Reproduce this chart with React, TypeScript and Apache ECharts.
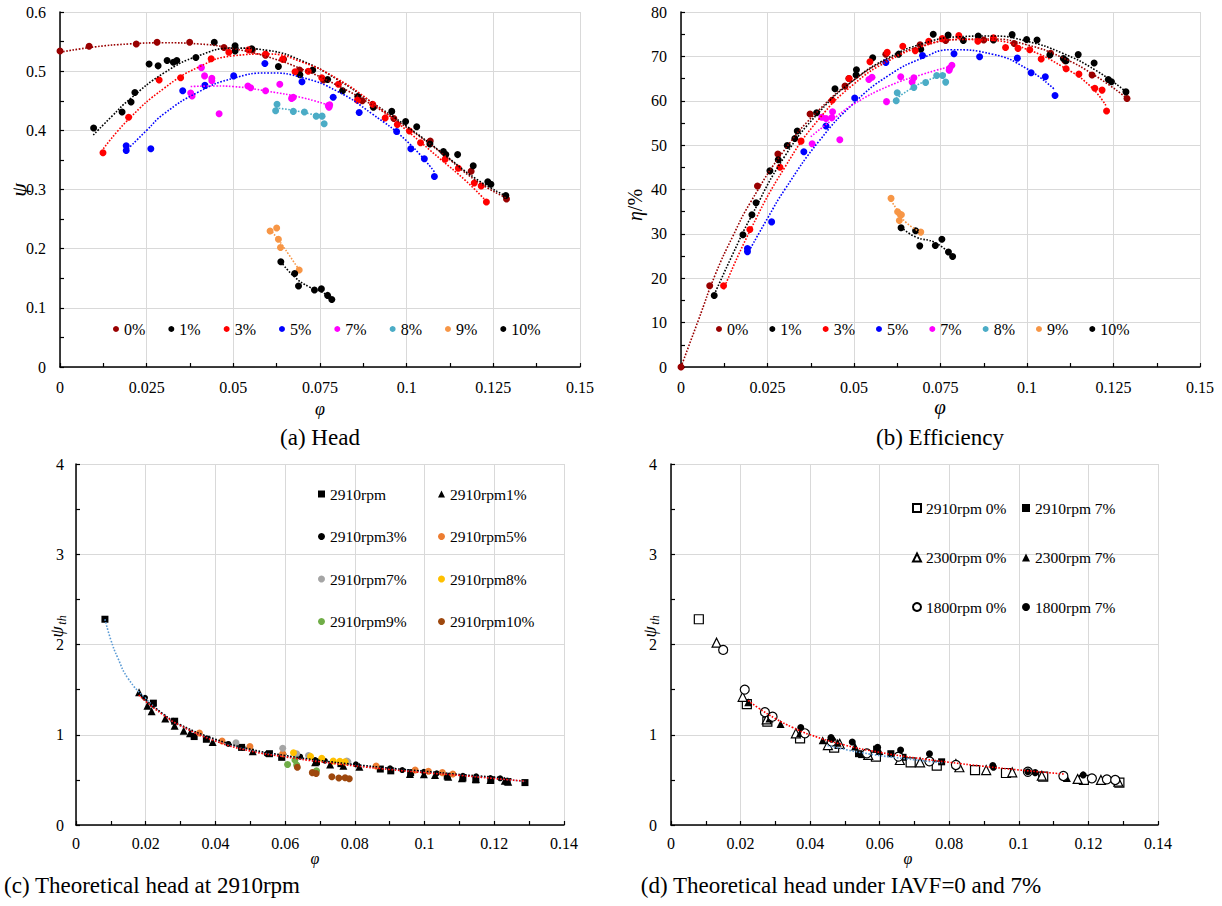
import React, { useEffect, useRef } from 'react';
import * as echarts from 'echarts';

const FONT = 'Liberation Serif';

// ---------- (a) Head: psi vs phi ----------
const headNames = ['0%', '1%', '3%', '5%', '7%', '8%', '9%', '10%'];
const headColors = ['#990000', '#000000', '#FF0000', '#0000FF', '#FF00FF', '#4BACC6', '#F79646', '#000000'];
const h0 = [[0,0.534],[0.0084,0.542],[0.022,0.546],[0.028,0.549],[0.0374,0.549],[0.0473,0.540],[0.0555,0.536],[0.0593,0.527],[0.0645,0.52],[0.0691,0.502],[0.076,0.485],[0.0872,0.45],[0.0963,0.42],[0.1068,0.382],[0.1186,0.331],[0.1288,0.284]];
const h1 = [[0.0097,0.404],[0.0179,0.431],[0.0205,0.448],[0.0216,0.464],[0.0257,0.512],[0.0283,0.509],[0.0309,0.518],[0.0327,0.515],[0.0337,0.518],[0.0392,0.523],[0.0445,0.549],[0.0505,0.543],[0.0505,0.534],[0.0553,0.538],[0.063,0.508],[0.0692,0.494],[0.0729,0.502],[0.0772,0.486],[0.0815,0.467],[0.0859,0.457],[0.0904,0.439],[0.0957,0.432],[0.0997,0.415],[0.1029,0.406],[0.1067,0.377],[0.1106,0.364],[0.1113,0.359],[0.1147,0.359],[0.1192,0.340],[0.1234,0.313],[0.1243,0.309],[0.1286,0.290]];
const h3 = [[0.0124,0.362],[0.0198,0.422],[0.0286,0.485],[0.0348,0.489],[0.0436,0.521],[0.0487,0.532],[0.0544,0.536],[0.0593,0.529],[0.0642,0.520],[0.0678,0.499],[0.0716,0.500],[0.0755,0.489],[0.0803,0.478],[0.0858,0.451],[0.0902,0.444],[0.0938,0.421],[0.0973,0.410],[0.1008,0.399],[0.104,0.379],[0.1111,0.351],[0.1149,0.336],[0.1195,0.311],[0.1215,0.306],[0.123,0.279]];
const h5 = [[0.0191,0.374],[0.0191,0.366],[0.0262,0.369],[0.0354,0.467],[0.0418,0.476],[0.0501,0.492],[0.0591,0.513],[0.0698,0.482],[0.0788,0.456],[0.0863,0.43],[0.0971,0.398],[0.1012,0.369],[0.1051,0.352],[0.108,0.322]];
const h7 = [[0.0377,0.463],[0.0381,0.458],[0.0408,0.506],[0.0417,0.492],[0.0438,0.488],[0.0438,0.484],[0.0459,0.428],[0.0542,0.475],[0.055,0.472],[0.0593,0.467],[0.0634,0.478],[0.0668,0.454],[0.0673,0.456],[0.0774,0.442],[0.0776,0.439],[0.0778,0.443]];
const h8 = [[0.0626,0.444],[0.0622,0.433],[0.0673,0.432],[0.0705,0.431],[0.0739,0.424],[0.0756,0.424],[0.0762,0.411]];
const h9 = [[0.0606,0.230],[0.0625,0.235],[0.063,0.216],[0.0636,0.202],[0.069,0.164]];
const h10 = [[0.0637,0.178],[0.0677,0.158],[0.0688,0.137],[0.0734,0.130],[0.0754,0.132],[0.0772,0.121],[0.0784,0.114]];
// trend lines
const ht0 = [[0,0.532],[0.01,0.541],[0.02,0.546],[0.03,0.548],[0.04,0.546],[0.05,0.538],[0.06,0.524],[0.07,0.503],[0.08,0.476],[0.09,0.443],[0.1,0.405],[0.11,0.362],[0.12,0.315],[0.129,0.285]];
const ht1 = [[0.0096,0.392],[0.015,0.424],[0.02,0.452],[0.03,0.497],[0.04,0.526],[0.05,0.539],[0.06,0.535],[0.07,0.517],[0.08,0.486],[0.09,0.447],[0.1,0.407],[0.11,0.363],[0.12,0.318],[0.129,0.288]];
const ht3 = [[0.0125,0.369],[0.02,0.42],[0.03,0.471],[0.04,0.507],[0.05,0.526],[0.06,0.529],[0.07,0.515],[0.08,0.487],[0.09,0.447],[0.1,0.400],[0.11,0.35],[0.117,0.315],[0.123,0.28]];
const ht5 = [[0.019,0.365],[0.025,0.40],[0.03,0.428],[0.04,0.465],[0.05,0.488],[0.06,0.497],[0.07,0.489],[0.08,0.466],[0.09,0.428],[0.1,0.382],[0.108,0.330]];
const ht7 = [[0.0377,0.474],[0.045,0.475],[0.05,0.474],[0.06,0.466],[0.07,0.455],[0.0778,0.442]];
const ht8 = [[0.0622,0.438],[0.067,0.434],[0.072,0.428],[0.0762,0.421]];
const ht9 = [[0.0606,0.232],[0.063,0.215],[0.066,0.19],[0.069,0.164]];
const ht10 = [[0.0637,0.178],[0.0677,0.152],[0.072,0.135],[0.0755,0.127],[0.0784,0.115]];

// ---------- (b) Efficiency ----------
const e0 = [[0,0],[0.0083,18.3],[0.0221,40.8],[0.028,48.0],[0.0373,57.0],[0.0474,63.3],[0.0485,65.0],[0.0592,70.5],[0.0691,72.6],[0.0765,73.6],[0.0875,73.7],[0.0963,72.9],[0.1068,70.7],[0.111,69.0],[0.1188,65.8],[0.1289,60.5]];
const e1 = [[0.0096,16.1],[0.0179,29.8],[0.0205,34.3],[0.0217,37.0],[0.0257,44.2],[0.0281,46.7],[0.0307,49.9],[0.0329,51.5],[0.0336,53.2],[0.0392,57.3],[0.0445,62.7],[0.0507,67.0],[0.0506,65.8],[0.0554,69.7],[0.0629,70.5],[0.0693,71.6],[0.0729,75.0],[0.0772,74.8],[0.0816,73.6],[0.0859,74.6],[0.0903,73.7],[0.0957,74.9],[0.0999,73.8],[0.1029,73.7],[0.1066,70.3],[0.1105,69.5],[0.1113,69.0],[0.1148,70.4],[0.1194,68.5],[0.1235,64.8],[0.1244,64.3],[0.1286,62.0]];
const e3 = [[0.0123,18.3],[0.0199,31.0],[0.0286,45.0],[0.0347,50.9],[0.0437,60.1],[0.0486,65.0],[0.0546,68.8],[0.0596,70.9],[0.0641,72.3],[0.0677,71.3],[0.0716,73.4],[0.0755,74.0],[0.0803,74.7],[0.0858,73.4],[0.0903,74.2],[0.0938,72.0],[0.0974,71.8],[0.1008,71.5],[0.1041,69.4],[0.1113,67.2],[0.115,66.0],[0.1196,62.8],[0.1217,62.4],[0.123,57.7]];
const e5 = [[0.0192,26.7],[0.0192,26.0],[0.0262,32.7],[0.0355,48.5],[0.0419,54.3],[0.0502,60.6],[0.0592,68.6],[0.0698,70.2],[0.0789,70.6],[0.0863,69.9],[0.0972,69.6],[0.1012,66.3],[0.1053,65.4],[0.1081,61.2]];
const e7 = [[0.0379,50.3],[0.0407,56.3],[0.0419,56.0],[0.0438,57.5],[0.0436,56.2],[0.0459,51.2],[0.0543,64.8],[0.0552,65.3],[0.0594,59.8],[0.0635,65.4],[0.0668,64.2],[0.0673,65.2],[0.0775,66.9],[0.0777,67.4],[0.0783,68.0]];
const e8 = [[0.0622,60.0],[0.0625,61.8],[0.0673,63.0],[0.0707,64.1],[0.0739,65.7],[0.0756,65.7],[0.0765,64.2]];
const e9 = [[0.0607,38.0],[0.0626,35.0],[0.0633,34.4],[0.0637,34.3],[0.0631,33.0],[0.0693,30.4]];
const e10 = [[0.0636,31.4],[0.0678,30.7],[0.069,27.3],[0.0735,27.4],[0.0754,28.8],[0.0773,25.9],[0.0785,24.9]];
const et0 = [[0,0],[0.005,10.5],[0.01,21],[0.015,29.5],[0.02,37],[0.03,49],[0.04,58],[0.05,64.7],[0.06,69.4],[0.07,72.4],[0.08,73.8],[0.09,73.9],[0.1,72.6],[0.11,69.8],[0.12,65.5],[0.129,60.5]];
const et1 = [[0.0096,16.3],[0.015,25.5],[0.02,33.5],[0.03,47.5],[0.04,57.5],[0.05,64.7],[0.06,69.7],[0.07,72.9],[0.08,74.4],[0.09,74.6],[0.1,73.4],[0.11,70.8],[0.12,66.8],[0.129,61.8]];
const et3 = [[0.0123,17.5],[0.02,30.8],[0.03,45],[0.04,56],[0.05,63.8],[0.06,69],[0.07,72.3],[0.08,73.8],[0.09,73.6],[0.1,71.6],[0.11,67.8],[0.118,63.5],[0.123,58.7]];
const et5 = [[0.0192,25.5],[0.025,33.5],[0.03,40],[0.04,51],[0.05,59.5],[0.06,65.7],[0.07,69.7],[0.078,71.5],[0.09,70.5],[0.1,67.2],[0.108,62.5]];
const et7 = [[0.0375,51.9],[0.045,56.5],[0.05,59.3],[0.06,63.3],[0.07,66],[0.0783,67.8]];
const et8 = [[0.0622,60.5],[0.066,62.5],[0.07,64.2],[0.0765,66]];
const et9 = [[0.0607,37.5],[0.0626,35.3],[0.065,32.6],[0.0693,30.4]];
const et10 = [[0.0636,31.5],[0.0678,29.3],[0.0735,28],[0.0785,25]];

// ---------- (c) Theoretical head at 2910rpm ----------
const cNames = ['2910rpm', '2910rpm1%', '2910rpm3%', '2910rpm5%', '2910rpm7%', '2910rpm8%', '2910rpm9%', '2910rpm10%'];
const cColors = ['#000000', '#000000', '#000000', '#ED7D31', '#A5A5A5', '#FFC000', '#70AD47', '#9E480E'];
const cSymbols = ['rect', 'triangle', 'circle', 'circle', 'circle', 'circle', 'circle', 'circle'];
const cSizes = [7, 8, 6, 7, 7, 7, 7, 7];
const c0 = [[0.0083,2.28],[0.0222,1.35],[0.0283,1.15],[0.0339,0.98],[0.0374,0.95],[0.0475,0.86],[0.0555,0.79],[0.059,0.75],[0.069,0.70],[0.076,0.68],[0.0873,0.62],[0.0903,0.60],[0.096,0.58],[0.1065,0.54],[0.111,0.52],[0.1147,0.50],[0.119,0.50],[0.1237,0.48],[0.1288,0.47]];
const c1 = [[0.0181,1.47],[0.0205,1.32],[0.0217,1.26],[0.0256,1.18],[0.0283,1.10],[0.0309,1.045],[0.0327,1.016],[0.0392,0.92],[0.0507,0.816],[0.0686,0.695],[0.0729,0.67],[0.0767,0.657],[0.0813,0.646],[0.0958,0.565],[0.0998,0.562],[0.103,0.554],[0.1068,0.535],[0.1107,0.517],[0.1147,0.51],[0.1189,0.50],[0.123,0.49],[0.124,0.48]];
const c3 = [[0.0198,1.41],[0.0222,1.33],[0.0279,1.155],[0.0339,0.99],[0.0437,0.898],[0.0478,0.857],[0.0547,0.787],[0.0595,0.783],[0.0643,0.757],[0.0686,0.72],[0.0714,0.712],[0.0803,0.672],[0.0901,0.628],[0.0936,0.609],[0.0998,0.59],[0.1035,0.573],[0.111,0.546],[0.1148,0.54],[0.1189,0.521],[0.1217,0.517]];
const c5 = [[0.0354,1.02],[0.0419,0.93],[0.0499,0.87],[0.0593,0.79],[0.0861,0.654],[0.0973,0.61],[0.1011,0.595],[0.1051,0.58],[0.1081,0.565]];
const c7 = [[0.0459,0.91],[0.0593,0.85],[0.0633,0.79],[0.0667,0.77],[0.0777,0.71],[0.078,0.70]];
const c8 = [[0.0624,0.80],[0.0673,0.76],[0.0705,0.74],[0.0738,0.71],[0.0757,0.705],[0.0772,0.70]];
const c9 = [[0.0607,0.67],[0.0628,0.72],[0.0633,0.665],[0.069,0.60]];
const c10 = [[0.0635,0.64],[0.0678,0.58],[0.0689,0.57],[0.0734,0.535],[0.0754,0.52],[0.0772,0.524],[0.0784,0.513]];
const ctBlue = [[0.0083,2.28],[0.01,2.05],[0.012,1.85],[0.015,1.62],[0.02,1.40],[0.025,1.23],[0.03,1.10],[0.04,0.94],[0.05,0.83],[0.06,0.765],[0.07,0.71],[0.08,0.665],[0.09,0.625],[0.1,0.59],[0.11,0.555],[0.12,0.52],[0.129,0.48]];
const ctRed = [[0.018,1.44],[0.02,1.37],[0.025,1.22],[0.03,1.10],[0.04,0.93],[0.05,0.82],[0.06,0.755],[0.07,0.70],[0.08,0.655],[0.09,0.615],[0.1,0.58],[0.11,0.55],[0.12,0.515],[0.129,0.485]];
const ctBlack = [[0.018,1.45],[0.025,1.23],[0.03,1.11],[0.04,0.95],[0.05,0.84],[0.06,0.77],[0.07,0.715],[0.08,0.67],[0.09,0.63],[0.1,0.595],[0.11,0.56],[0.12,0.53],[0.125,0.51]];

// ---------- (d) Theoretical head under IAVF=0 and 7% ----------
const dNames = ['2910rpm 0%', '2910rpm 7%', '2300rpm 0%', '2300rpm 7%', '1800rpm 0%', '1800rpm 7%'];
const dSymbols = ['rect', 'rect', 'triangle', 'triangle', 'circle', 'circle'];
const dOpen = [true, false, true, false, true, false];
const dSizes = [9, 7, 9, 8, 9, 7];
const d0 = [[0.008,2.28],[0.0218,1.34],[0.0277,1.145],[0.0371,0.96],[0.0469,0.857],[0.0589,0.757],[0.0689,0.695],[0.0764,0.657],[0.0874,0.609],[0.0963,0.576],[0.107,0.535],[0.1187,0.499],[0.1289,0.469]];
const d1 = [[0.0539,0.79],[0.0548,0.78],[0.0591,0.84],[0.0632,0.79],[0.0667,0.75],[0.0778,0.70]];
const d2 = [[0.0131,2.02],[0.0206,1.42],[0.0275,1.17],[0.0359,1.016],[0.0451,0.886],[0.0485,0.90],[0.0567,0.776],[0.0658,0.72],[0.0716,0.695],[0.0829,0.64],[0.0906,0.609],[0.0981,0.584],[0.1066,0.546],[0.1169,0.51],[0.1236,0.499],[0.1286,0.48]];
const d3 = [[0.0222,1.36],[0.0283,1.18],[0.0315,1.12],[0.0371,1.02],[0.0436,0.94],[0.0479,0.91],[0.0529,0.87],[0.0599,0.82],[0.0663,0.765],[0.0819,0.695],[0.1138,0.52]];
const d4 = [[0.015,1.94],[0.0212,1.50],[0.027,1.25],[0.0292,1.20],[0.0385,1.016],[0.0462,0.923],[0.0563,0.794],[0.0654,0.757],[0.0743,0.705],[0.0819,0.665],[0.1026,0.59],[0.1128,0.543],[0.121,0.517],[0.1253,0.506],[0.1277,0.499]];
const d5 = [[0.0373,1.08],[0.046,0.97],[0.0462,0.95],[0.0521,0.92],[0.0594,0.86],[0.066,0.83],[0.0743,0.79],[0.0925,0.66],[0.0927,0.64],[0.1026,0.59],[0.1047,0.58],[0.1185,0.555]];
const dtRed = [[0.0222,1.38],[0.025,1.30],[0.03,1.18],[0.035,1.08],[0.04,1.0],[0.05,0.885],[0.06,0.805],[0.07,0.745],[0.08,0.695],[0.09,0.65],[0.1,0.61],[0.113,0.565]];
const dtBlue = [[0.045,0.88],[0.055,0.80],[0.065,0.745],[0.078,0.69]];

const headData = [h0, h1, h3, h5, h7, h8, h9, h10];
const headTrends = [ht0, ht1, ht3, ht5, ht7, ht8, ht9, ht10];
const effData = [e0, e1, e3, e5, e7, e8, e9, e10];
const effTrends = [et0, et1, et3, et5, et7, et8, et9, et10];
const cData = [c0, c1, c3, c5, c7, c8, c9, c10];
const dData = [d0, d1, d2, d3, d4, d5];

const fmt = (v: number) => String(parseFloat(v.toFixed(4)));

function mkAxis(gridIndex: number, max: number, interval: number, fontSize: number, margin: number) {
  return {
    type: 'value', gridIndex, min: 0, max, interval,
    axisLine: { show: true, onZero: false, lineStyle: { color: '#000', width: 1.5 } },
    axisTick: { show: true, inside: true, length: 4, lineStyle: { color: '#000', width: 1.2 } },
    minorTick: { show: true, splitNumber: 2, length: 4, lineStyle: { color: '#000', width: 1.2 } },
    splitLine: { show: true, lineStyle: { color: '#d9d9d9', width: 1 } },
    minorSplitLine: { show: false },
    axisLabel: { color: '#000', fontFamily: FONT, fontSize, margin, formatter: fmt },
  };
}

function scatter(name: string, data: number[][], idx: number, color: string, symbol = 'circle', size = 7, open = false) {
  return {
    type: 'scatter', name, data, xAxisIndex: idx, yAxisIndex: idx, symbol, symbolSize: size, z: 2,
    itemStyle: open ? { color: '#fff', borderColor: '#000', borderWidth: 1.2, opacity: 1 } : { color, opacity: 1 },
    emphasis: { disabled: true },
  };
}

function trend(name: string, data: number[][], idx: number, color: string) {
  return {
    type: 'line', name, data, xAxisIndex: idx, yAxisIndex: idx, smooth: true, showSymbol: false, symbol: 'none',
    lineStyle: { color, width: 1.6, type: 'dotted' }, silent: true, z: 3,
  };
}

function txt(text: string, x: number, y: number, fontSize: number, italic = false, rotation = 0) {
  return {
    type: 'text', x, y, rotation,
    style: { text, fill: '#000', fontFamily: FONT, fontSize, fontStyle: italic ? 'italic' : 'normal', textAlign: 'center', textVerticalAlign: 'middle' },
  };
}

function psiTh(x: number, y: number) {
  return {
    type: 'group', x, y, rotation: Math.PI / 2,
    children: [
      { type: 'text', x: -4, y: 0, style: { text: 'ψ', fill: '#000', fontFamily: FONT, fontSize: 18, fontStyle: 'italic', textAlign: 'center', textVerticalAlign: 'middle' } },
      { type: 'text', x: 8, y: 5, style: { text: 'th', fill: '#000', fontFamily: FONT, fontSize: 12, fontStyle: 'italic', textAlign: 'center', textVerticalAlign: 'middle' } },
    ],
  };
}

export default function App() {
  const ref = useRef<HTMLDivElement>(null);
  useEffect(() => {
    const chart = echarts.init(ref.current as HTMLDivElement, null, { renderer: 'svg' });
    const series: any[] = [];
    headNames.forEach((n, i) => {
      series.push(scatter(n, headData[i], 0, headColors[i]));
      series.push(trend('_ha' + i, headTrends[i], 0, headColors[i]));
      series.push(scatter(n, effData[i], 1, headColors[i]));
      series.push(trend('_eb' + i, effTrends[i], 1, headColors[i]));
    });
    cNames.forEach((n, i) => series.push(scatter(n, cData[i], 2, cColors[i], cSymbols[i], cSizes[i])));
    series.push(trend('_cb', ctBlue, 2, '#5B9BD5'));
    series.push(trend('_ck', ctBlack, 2, '#000000'));
    series.push(trend('_cr', ctRed, 2, '#FF0000'));
    dNames.forEach((n, i) => series.push(scatter(n, dData[i], 3, '#000', dSymbols[i], dSizes[i], dOpen[i])));
    series.push(trend('_db', dtBlue, 3, '#5B9BD5'));
    series.push(trend('_dr', dtRed, 3, '#FF0000'));

    const legText = (fs: number) => ({ fontFamily: FONT, fontSize: fs, color: '#000' });
    const option: any = {
      animation: false,
      backgroundColor: '#ffffff',
      textStyle: { fontFamily: FONT },
      grid: [
        { left: 60, top: 12, width: 520, height: 355 },
        { left: 681, top: 12, width: 519, height: 355 },
        { left: 76, top: 464, width: 488, height: 361 },
        { left: 671, top: 464, width: 487, height: 361 },
      ],
      xAxis: [
        mkAxis(0, 0.15, 0.025, 16, 12),
        mkAxis(1, 0.15, 0.025, 16, 12),
        mkAxis(2, 0.14, 0.02, 16, 10),
        mkAxis(3, 0.14, 0.02, 16, 10),
      ],
      yAxis: [
        mkAxis(0, 0.6, 0.1, 16, 14),
        mkAxis(1, 80, 10, 16, 14),
        mkAxis(2, 4, 1, 16, 12),
        mkAxis(3, 4, 1, 16, 14),
      ],
      legend: [
        { data: headNames, left: 108, top: 316, icon: 'circle', itemWidth: 6, itemHeight: 6, itemGap: 23, selectedMode: false, textStyle: legText(16) },
        { data: headNames, left: 711, top: 316, icon: 'circle', itemWidth: 6, itemHeight: 6, itemGap: 21, selectedMode: false, textStyle: legText(16) },
        { data: ['2910rpm', '2910rpm3%', '2910rpm7%', '2910rpm9%'], orient: 'vertical', left: 313, top: 481, itemWidth: 7, itemHeight: 7, itemGap: 26.5, selectedMode: false, textStyle: legText(15.5) },
        { data: ['2910rpm1%', '2910rpm5%', '2910rpm8%', '2910rpm10%'], orient: 'vertical', left: 433, top: 481, itemWidth: 7, itemHeight: 7, itemGap: 26.5, selectedMode: false, textStyle: legText(15.5) },
        { data: ['2910rpm 0%', '2300rpm 0%', '1800rpm 0%'], orient: 'vertical', left: 907, top: 495, itemWidth: 8, itemHeight: 8, itemGap: 33.5, selectedMode: false, textStyle: legText(15.5) },
        { data: ['2910rpm 7%', '2300rpm 7%', '1800rpm 7%'], orient: 'vertical', left: 1017, top: 495, itemWidth: 8, itemHeight: 8, itemGap: 33.5, selectedMode: false, textStyle: legText(15.5) },
      ],
      graphic: [
        txt('ψ', 18, 190, 22, true, Math.PI / 2),
        txt('φ', 320, 409, 18, true),
        {
          type: 'text', x: 635, y: 205, rotation: Math.PI / 2,
          style: { text: '{i|η}/%', fill: '#000', fontFamily: FONT, fontSize: 20, textAlign: 'center', textVerticalAlign: 'middle', rich: { i: { fontStyle: 'italic', fontSize: 20, fontFamily: FONT } } },
        },
        txt('φ', 940, 407, 21, true),
        psiTh(57, 628),
        txt('φ', 315, 858, 16, true),
        psiTh(650, 628),
        txt('φ', 908, 858, 16, true),
        txt('(a) Head', 320, 437, 23),
        txt('(b) Efficiency', 940, 437, 23),
        txt('(c) Theoretical head at 2910rpm', 152, 885, 23),
        txt('(d) Theoretical head under IAVF=0 and 7%', 841, 885, 23),
      ],
      series,
    };
    chart.setOption(option);
    return () => chart.dispose();
  }, []);
  return <div ref={ref} style={{ position: 'absolute', left: 0, top: 0, width: 1222, height: 906, background: '#fff' }} />;
}
